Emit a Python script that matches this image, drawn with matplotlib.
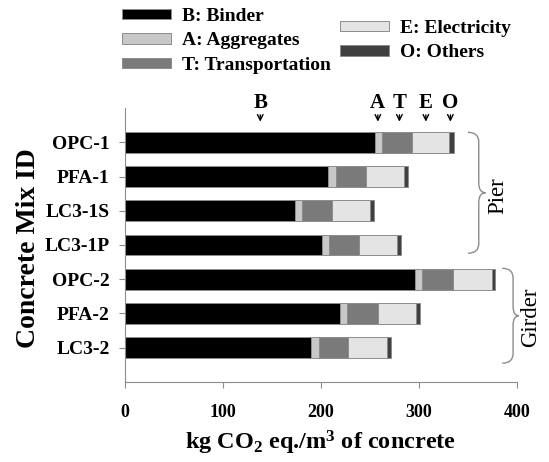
import numpy as np
import matplotlib
matplotlib.use("Agg")
import matplotlib.pyplot as plt
from matplotlib.path import Path
from matplotlib.patches import PathPatch, Patch

# carbon footprint components per concrete mix (kg CO2 eq./m3)
mixes = ["OPC-1", "PFA-1", "LC3-1S", "LC3-1P", "OPC-2", "PFA-2", "LC3-2"]
binder = [255, 207.5, 173, 201, 296, 219.5, 189.5]
aggregates = [7.5, 7.5, 7.5, 7, 7.5, 7.5, 8]
transport = [30, 30.5, 30.5, 31, 31.5, 31.5, 30.5]
electricity = [38.5, 39, 39, 38.5, 39, 38.5, 39]
others = [4.5, 4.5, 4, 4.5, 4, 4.5, 4]

labels = ["B: Binder", "A: Aggregates", "T: Transportation", "E: Electricity", "O: Others"]
colors = ["#000000", "#c8c8c8", "#7a7a7a", "#e4e4e4", "#404040"]
letters = ["B", "A", "T", "E", "O"]
letter_x = [138, 258, 280, 307, 332]

plt.rcParams["font.family"] = ["Liberation Serif", "DejaVu Serif"]
plt.rcParams["font.weight"] = "bold"
plt.rcParams["mathtext.default"] = "regular"

fig = plt.figure(figsize=(5.49, 4.62), dpi=100)
ax = fig.add_axes([0.2277, 0.1732, 0.714, 0.5930])

y = np.arange(len(mixes))
series = [binder, aggregates, transport, electricity, others]
left = np.zeros(len(mixes))
handles = []
for vals, c, lab in zip(series, colors, labels):
    ax.barh(y, vals, left=left, height=0.6, color=c, edgecolor="#8c8c8c", linewidth=0.7)
    left += np.array(vals)
    handles.append(Patch(facecolor=c, edgecolor="#8c8c8c", linewidth=0.7, label=lab))

ax.set_ylim(len(mixes), -1)
ax.set_xlim(0, 400)
ax.set_xticks([0, 100, 200, 300, 400])
ax.set_yticks(y)
ax.set_yticklabels(mixes)
ax.tick_params(axis="y", labelsize=14, length=4, width=0.8, color="#8c8c8c", pad=7)
ax.tick_params(axis="x", labelsize=13, length=4, width=0.8, color="#8c8c8c", pad=12)
for s in ["top", "right"]:
    ax.spines[s].set_visible(False)
for s in ["left", "bottom"]:
    ax.spines[s].set_color("#8c8c8c")
    ax.spines[s].set_linewidth(0.8)

ax.set_ylabel("Concrete Mix ID", fontsize=20, fontweight="bold")
ax.yaxis.set_label_coords(-0.215, 0.49)
ax.set_xlabel("kg CO$_2$ eq./m$^3$ of concrete", fontsize=17.5, fontweight="bold")
ax.xaxis.set_label_coords(0.5, -0.17)

# letter markers with arrows above the first bar
for lx, lt in zip(letter_x, letters):
    ax.annotate("", xy=(lx, -0.52), xytext=(lx, -0.88),
                arrowprops=dict(arrowstyle="->", lw=1.0, color="black"), annotation_clip=False)
    ax.text(lx, -0.86, lt, ha="center", va="bottom", fontsize=15, fontweight="bold")


def brace(x0, xm, xt, y0, y1, d=0.28):
    ym = (y0 + y1) / 2
    verts = [(x0, y0), (xm, y0), (xm, y0 + d),
             (xm, ym - d), (xm, ym), (xt, ym),
             (xm, ym), (xm, ym + d),
             (xm, y1 - d), (xm, y1), (x0, y1)]
    codes = [Path.MOVETO, Path.CURVE3, Path.CURVE3,
             Path.LINETO, Path.CURVE3, Path.CURVE3,
             Path.CURVE3, Path.CURVE3,
             Path.LINETO, Path.CURVE3, Path.CURVE3]
    ax.add_patch(PathPatch(Path(verts, codes), fill=False, edgecolor="#8c8c8c",
                           lw=1.0, clip_on=False))


brace(350, 361, 368, -0.29, 3.24)
brace(385, 396, 402, 3.68, 6.45)
ax.text(380, 1.55, "Pier", rotation=90, ha="center", va="center",
        fontsize=16.5, fontweight="normal")
ax.text(414, 5.1, "Girder", rotation=90, ha="center", va="center",
        fontsize=16.5, fontweight="normal", clip_on=False)

leg_kw = dict(frameon=False, fontsize=14, handlelength=2.5, handleheight=0.45,
              handletextpad=0.6, labelspacing=0.38, borderpad=0, borderaxespad=0,
              loc="upper left")
leg1 = fig.legend(handles=handles[:3], bbox_to_anchor=(122 / 549, 1 - 8 / 462), **leg_kw)
leg2 = fig.legend(handles=handles[3:], bbox_to_anchor=(340 / 549, 1 - 20 / 462), **leg_kw)

fig.savefig("out.png", dpi=100)
